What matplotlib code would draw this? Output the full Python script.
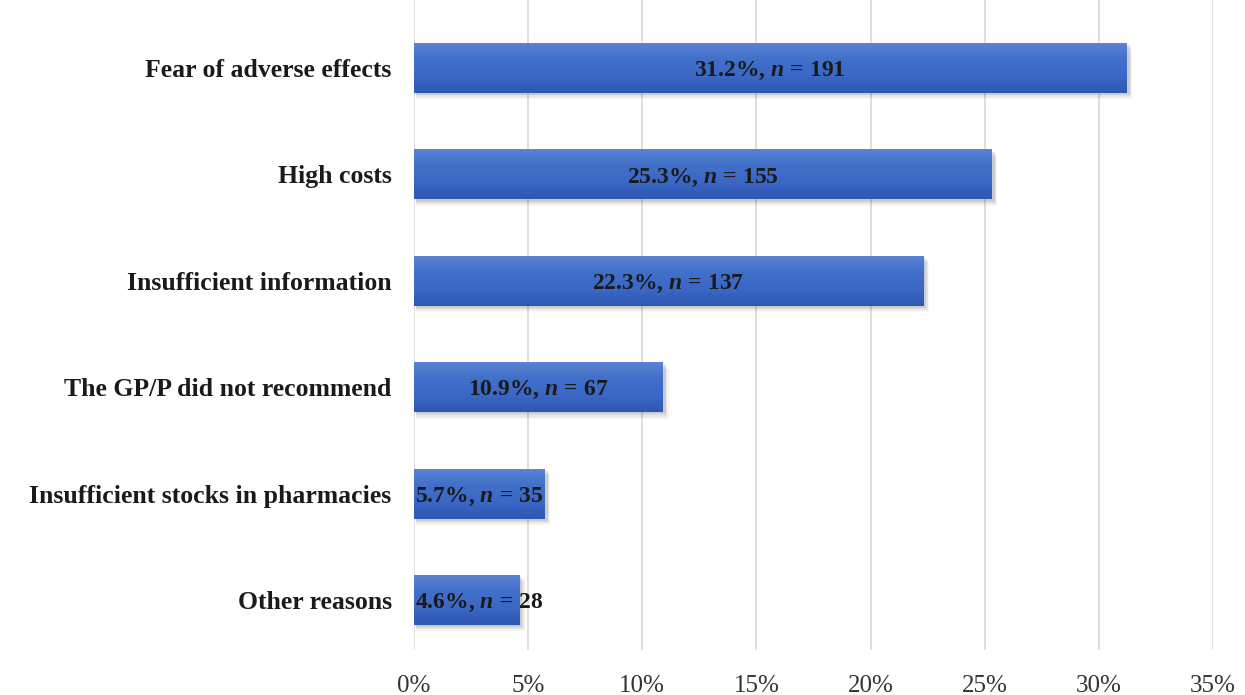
import matplotlib
matplotlib.use('Agg')
import matplotlib.pyplot as plt
import numpy as np
from matplotlib.colors import LinearSegmentedColormap
from matplotlib.patches import Rectangle

reasons = ['Fear of adverse effects', 'High costs', 'Insufficient information',
           'The GP/P did not recommend', 'Insufficient stocks in pharmacies', 'Other reasons']
percent = [31.2, 25.3, 22.3, 10.9, 5.7, 4.6]
counts = [191, 155, 137, 67, 35, 28]
xticks = [0, 5, 10, 15, 20, 25, 30, 35]

plt.rcParams['font.family'] = 'Liberation Serif'
plt.rcParams['mathtext.fontset'] = 'custom'
plt.rcParams['mathtext.it'] = 'Liberation Serif:italic:bold'
plt.rcParams['mathtext.rm'] = 'Liberation Serif:bold'

fig = plt.figure(figsize=(12.45, 6.95), dpi=100)
ax = fig.add_axes([0.3325, 0.0647, 0.9743 - 0.3325, 1 - 0.0647])

y = np.arange(len(reasons))
h = 0.47

# verlauf fuer die balken
grad = LinearSegmentedColormap.from_list('g', ['#2d57b2', '#3b67c6', '#4170ca', '#5d83d3'])
gimg = np.linspace(0, 1, 100).reshape(-1, 1)

for i, (p, c) in enumerate(zip(percent, counts)):
    # schatten
    for k, a in enumerate([0.10, 0.07, 0.04]):
        d = 0.02 * (k + 1)
        ax.add_patch(Rectangle((0.1, i - h / 2 + d), p + 0.05 * (k + 1), h,
                               facecolor='black', alpha=a, lw=0, zorder=2))
    bar = ax.barh(i, p, height=h, color='#3b67c6', zorder=3)[0]
    im = ax.imshow(gimg, extent=[0, p, i + h / 2, i - h / 2], cmap=grad,
                   aspect='auto', zorder=4, origin='lower')
    im.set_clip_path(bar)
    # bei kurzen balken beginnt die beschriftung am balkenanfang
    ax.text(max(p / 2, 2.85), i + 0.03, f'{p}%, $n$ = {c}', ha='center', va='center',
            fontsize=17, fontweight='bold', color='#1a1a1a', zorder=5)

ax.set_yticks(y)
ax.set_yticklabels(reasons, fontsize=18.5, fontweight='bold', color='#1a1a1a')
ax.set_xticks(xticks)
ax.set_xticklabels([f'{t}%' for t in xticks], fontsize=18, color='#333333')
ax.set_xlim(0, 35)
ax.set_ylim(5.47, -0.64)
ax.grid(axis='x', color='#d9d9d9', lw=1.2, zorder=0)
ax.set_axisbelow(True)
for s in ax.spines.values():
    s.set_visible(False)
ax.tick_params(length=0)
ax.tick_params(axis='y', pad=16)
ax.tick_params(axis='x', pad=18)

fig.savefig('out.png', dpi=100)
